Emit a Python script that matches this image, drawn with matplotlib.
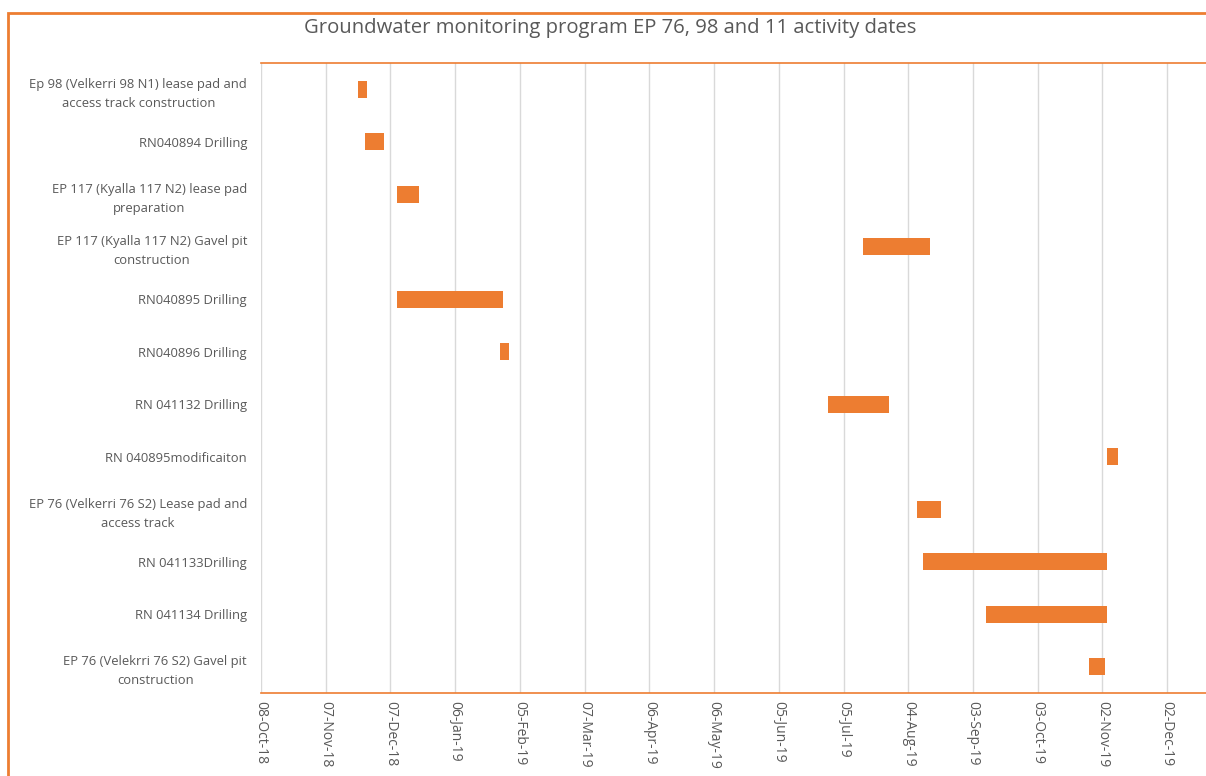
import numpy as np
import pandas as pd
import matplotlib
matplotlib.use('Agg')
import matplotlib.pyplot as plt
import matplotlib.dates as mdates
from matplotlib.patches import Rectangle

tasks = [
    'Ep 98 (Velkerri 98 N1) lease pad and\naccess track construction',
    'RN040894 Drilling',
    'EP 117 (Kyalla 117 N2) lease pad\npreparation',
    'EP 117 (Kyalla 117 N2) Gavel pit\nconstruction',
    'RN040895 Drilling',
    'RN040896 Drilling',
    'RN 041132 Drilling',
    'RN 040895modificaiton',
    'EP 76 (Velkerri 76 S2) Lease pad and\naccess track',
    'RN 041133Drilling',
    'RN 041134 Drilling',
    'EP 76 (Velekrri 76 S2) Gavel pit\nconstruction',
]
start_dates = ['2018-11-22', '2018-11-25', '2018-12-10', '2019-07-14',
               '2018-12-10', '2019-01-27', '2019-06-28', '2019-11-04',
               '2019-08-08', '2019-08-11', '2019-09-09', '2019-10-27']
durations = [4, 9, 10, 31, 49, 4, 28, 5, 11, 85, 56, 7]

tick_dates = pd.date_range('2018-10-08', periods=15, freq='30D')

orange = '#ED7D31'
grey_text = '#595959'
plt.rcParams['font.family'] = ['Open Sans', 'DejaVu Sans']

W, H = 1206, 776
fig = plt.figure(figsize=(W / 100, H / 100), dpi=100)

# outer chart border (runs off the picture at right and bottom)
fig.patches.append(Rectangle((8 / W, -0.1), 1.2, (H - 13) / H + 0.1,
                             transform=fig.transFigure, fill=False,
                             edgecolor=orange, linewidth=2))

ax = fig.add_axes([261 / W, (H - 693) / H, (W - 261) / W, 630 / H])

starts = mdates.date2num(pd.to_datetime(start_dates))
ypos = np.arange(len(tasks))
ax.barh(ypos, durations, left=starts, height=0.32, color=orange, zorder=3)

ax.set_ylim(len(tasks) - 0.5, -0.5)
ax.set_yticks(ypos)
ax.set_yticklabels(tasks, fontsize=9.4, color=grey_text, multialignment='center',
                   linespacing=1.6)
ax.tick_params(axis='y', length=0, pad=10)

x0 = mdates.date2num(tick_dates[0])
ax.set_xlim(x0, x0 + 438)
ax.set_xticks(mdates.date2num(tick_dates))
ax.set_xticklabels([d.strftime('%d-%b-%y') for d in tick_dates],
                   rotation=-90, fontsize=10, color=grey_text, va='top', ha='center')
ax.tick_params(axis='x', length=0, pad=6)
ax.grid(axis='x', color='#d9d9d9', linewidth=1, zorder=0)

for side in ['left', 'right']:
    ax.spines[side].set_visible(False)
for side in ['top', 'bottom']:
    ax.spines[side].set_color(orange)
    ax.spines[side].set_linewidth(1.2)

fig.text(610 / W, (H - 28) / H, 'Groundwater monitoring program EP 76, 98 and 11 activity dates',
         ha='center', va='center', fontsize=14.6, color=grey_text)

fig.savefig('out.png', dpi=100)
